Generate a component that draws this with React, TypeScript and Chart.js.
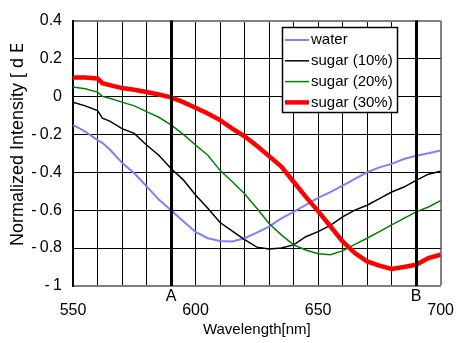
import React, { useEffect, useRef } from "react";
import { Chart, registerables } from "chart.js";

Chart.register(...registerables);

// ---- data ----
const wavelengths = [550, 555, 560, 562, 565, 570, 575, 580, 585, 590, 595, 600, 605, 610, 615, 620, 625, 630, 635, 640, 645, 650, 655, 660, 665, 670, 675, 680, 685, 690, 695, 700];

const water = [-0.15, -0.186, -0.23, -0.245, -0.28, -0.35, -0.405, -0.474, -0.544, -0.6, -0.658, -0.715, -0.748, -0.762, -0.765, -0.748, -0.718, -0.687, -0.643, -0.609, -0.572, -0.535, -0.505, -0.47, -0.435, -0.4, -0.374, -0.356, -0.33, -0.313, -0.3, -0.285];

const sugar10 = [-0.03, -0.05, -0.075, -0.115, -0.13, -0.17, -0.195, -0.256, -0.31, -0.38, -0.44, -0.52, -0.59, -0.665, -0.71, -0.755, -0.795, -0.805, -0.8, -0.783, -0.74, -0.713, -0.68, -0.635, -0.6, -0.574, -0.539, -0.504, -0.478, -0.443, -0.41, -0.395];

const sugar20 = [0.05, 0.04, 0.023, 0.0, -0.01, -0.03, -0.05, -0.08, -0.11, -0.15, -0.2, -0.256, -0.31, -0.39, -0.45, -0.513, -0.59, -0.67, -0.73, -0.783, -0.81, -0.83, -0.835, -0.815, -0.78, -0.748, -0.713, -0.678, -0.643, -0.609, -0.583, -0.55];

const sugar30 = [0.1, 0.1, 0.095, 0.07, 0.06, 0.044, 0.035, 0.023, 0.01, -0.005, -0.03, -0.06, -0.09, -0.125, -0.17, -0.21, -0.26, -0.315, -0.37, -0.45, -0.53, -0.605, -0.685, -0.765, -0.826, -0.87, -0.893, -0.91, -0.9, -0.888, -0.853, -0.835];

const seriesLabels = ["water", "sugar (10%)", "sugar (20%)", "sugar (30%)"];
const numberTicks = [550, 600, 650, 700];
const markerTicks = [590, 690];
const markerLabels = ["A", "B"];
const yTitle = "Normalized Intensity [ d E / d λ ]";
const xTitle = "Wavelength[nm]";

const FONT = "'Liberation Sans', Arial, sans-serif";

const toPoints = (ys: number[]) => wavelengths.map((x, i) => ({ x, y: ys[i] }));

const overlayPlugin = {
  id: "overlay",
  afterDatasetsDraw(chart: any) {
    const { ctx, chartArea, scales } = chart;
    const xs = scales.x;
    ctx.save();
    ctx.strokeStyle = "#000";
    ctx.lineWidth = 3;
    markerTicks.forEach((v) => {
      const px = Math.round(xs.getPixelForValue(v)) + 0.5;
      ctx.beginPath();
      ctx.moveTo(px, chartArea.top);
      ctx.lineTo(px, chartArea.bottom);
      ctx.stroke();
    });
    ctx.restore();
  },
  afterDraw(chart: any) {
    const { ctx } = chart;
    // y-axis title, clipped like the original
    ctx.save();
    ctx.beginPath();
    ctx.rect(0, 44, 40, 310);
    ctx.clip();
    ctx.translate(23, 246);
    ctx.rotate(-Math.PI / 2);
    ctx.font = `18px ${FONT}`;
    ctx.fillStyle = "#000";
    ctx.textAlign = "left";
    ctx.textBaseline = "alphabetic";
    ctx.fillText(yTitle, 0, 0);
    ctx.restore();

    // legend
    const ds = chart.data.datasets;
    ctx.save();
    ctx.fillStyle = "#fff";
    ctx.fillRect(282, 27, 116, 86);
    ctx.strokeStyle = "#000";
    ctx.lineWidth = 1.5;
    ctx.strokeRect(282.5, 27.5, 115, 85);
    ctx.font = `15px ${FONT}`;
    ctx.textBaseline = "middle";
    ctx.textAlign = "left";
    ds.forEach((d: any, i: number) => {
      const y = 40 + i * 20.8;
      ctx.strokeStyle = d.borderColor;
      ctx.lineWidth = d.borderWidth;
      ctx.beginPath();
      ctx.moveTo(285, y);
      ctx.lineTo(309, y);
      ctx.stroke();
      ctx.fillStyle = "#000";
      ctx.fillText(d.label, 311, y);
    });
    ctx.restore();
  },
};

export default function App() {
  const ref = useRef<HTMLCanvasElement>(null);
  useEffect(() => {
    document.body.style.margin = "0";
    if (!ref.current) return;
    const chart = new Chart(ref.current, {
      type: "line",
      data: {
        datasets: [
          { label: seriesLabels[0], data: toPoints(water), borderColor: "#8080ff", borderWidth: 2, order: 4 },
          { label: seriesLabels[1], data: toPoints(sugar10), borderColor: "#000000", borderWidth: 1.5, order: 3 },
          { label: seriesLabels[2], data: toPoints(sugar20), borderColor: "#008000", borderWidth: 1.5, order: 2 },
          { label: seriesLabels[3], data: toPoints(sugar30), borderColor: "#ff0000", borderWidth: 4.5, order: 1 },
        ].map((d) => ({ ...d, pointRadius: 0, tension: 0, fill: false })),
      },
      options: {
        animation: false,
        responsive: true,
        maintainAspectRatio: false,
        layout: { padding: { top: 17, right: 14, left: 0, bottom: 0 } },
        plugins: { legend: { display: false }, tooltip: { enabled: false } },
        scales: {
          x: {
            type: "linear",
            min: 550,
            max: 700,
            afterFit: (s: any) => { s.height = 57; },
            border: { color: "#808080", width: 2 },
            grid: {
              drawTicks: false,
              color: (c: any) => (c.tick && c.tick.value === 700 ? "#808080" : "#000"),
              lineWidth: (c: any) => (c.tick && c.tick.value === 700 ? 2 : 1),
            },
            ticks: {
              stepSize: 10,
              autoSkip: false,
              maxRotation: 0,
              padding: 3,
              color: "#000",
              font: { family: FONT, size: 16, lineHeight: 0.9 },
              callback: (v: any) => {
                const mi = markerTicks.indexOf(v);
                if (mi >= 0) return [markerLabels[mi]];
                if (numberTicks.includes(v)) return ["", String(v)];
                return "";
              },
            },
            title: {
              display: true,
              text: xTitle,
              color: "#000",
              font: { family: FONT, size: 15 },
              padding: { top: 0, bottom: 4 },
            },
          },
          y: {
            min: -1,
            max: 0.4,
            afterFit: (s: any) => { s.width = 73; },
            border: { color: "#000", width: 2 },
            grid: {
              drawTicks: false,
              color: (c: any) => (c.tick && Math.abs(c.tick.value - 0.4) < 1e-6 ? "#808080" : "#000"),
              lineWidth: (c: any) => (c.tick && Math.abs(c.tick.value - 0.4) < 1e-6 ? 2 : 1),
            },
            ticks: {
              stepSize: 0.2,
              padding: 11,
              color: "#000",
              font: { family: FONT, size: 16 },
              callback: (v: any) => {
                const r = Math.round(v * 10) / 10;
                if (r === 0) return "0";
                return r < 0 ? "-\u2009" + String(Math.abs(r)) : String(r);
              },
            },
          },
        },
      },
      plugins: [overlayPlugin],
    });
    return () => chart.destroy();
  }, []);
  return (
    <div style={{ width: 457, height: 343, position: "relative" }}>
      <canvas ref={ref} />
    </div>
  );
}
